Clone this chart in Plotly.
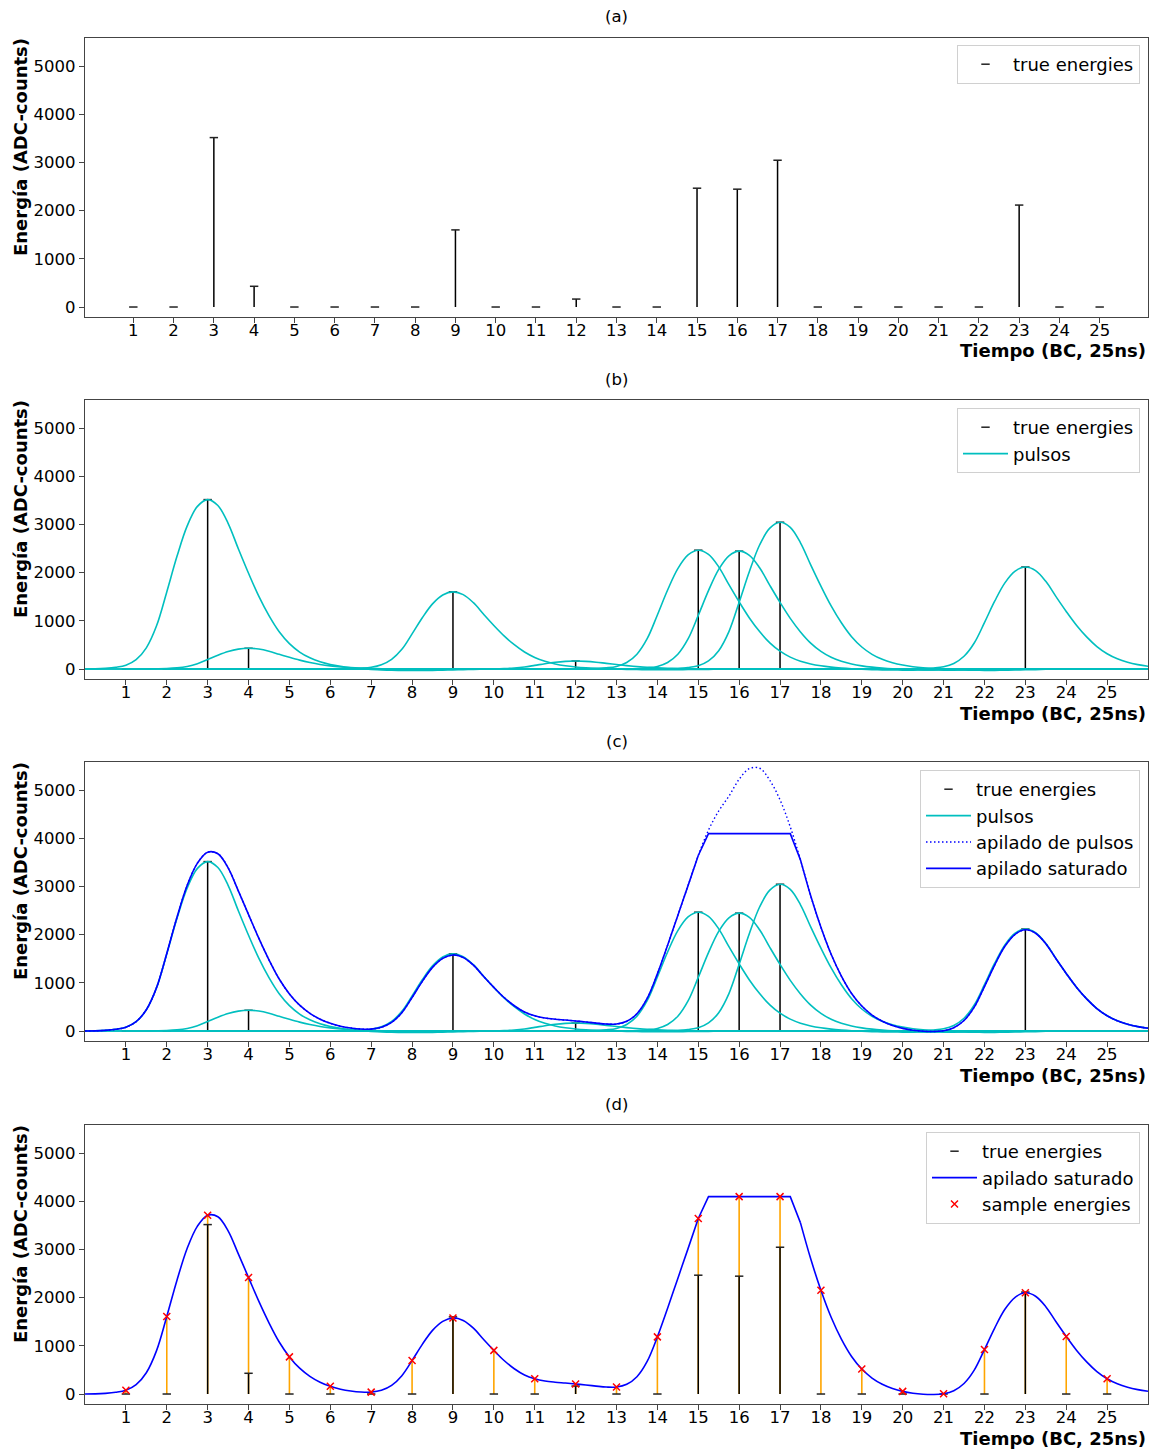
import plotly.graph_objects as go
from plotly.subplots import make_subplots

# Bunch crossings and deposited (true) energies, ADC counts
BC = list(range(1, 26))
TRUE_ENERGY = [0, 0, 3515, 430, 0, 0, 0, 0, 1600, 0, 0, 165, 0, 0,
               2465, 2445, 3045, 0, 0, 0, 0, 0, 2115, 0, 0]

# Normalised pulse shape, tabulated every quarter of a bunch crossing
PULSE_OFFSET = [-3.0, -2.75, -2.5, -2.25, -2.0, -1.75, -1.5, -1.25, -1.0, -0.75,
                -0.5, -0.25, 0.0, 0.25, 0.5, 0.75, 1.0, 1.25, 1.5, 1.75,
                2.0, 2.25, 2.5, 2.75, 3.0, 3.25, 3.5, 3.75, 4.0, 4.25,
                4.5, 4.75, 5.0, 5.25, 5.5, 5.75, 6.0, 6.25, 6.5, 6.75, 7.0]
PULSE_SHAPE = [0.000, 0.001, 0.004, 0.010, 0.022, 0.055, 0.125, 0.255, 0.455, 0.665,
               0.845, 0.960, 1.000, 0.965, 0.860, 0.710, 0.565, 0.430, 0.315, 0.220,
               0.150, 0.100, 0.066, 0.043, 0.027, 0.016, 0.008, 0.002, -0.002, -0.005,
               -0.007, -0.008, -0.009, -0.009, -0.008, -0.007, -0.005, -0.004, -0.002, -0.001, 0.000]

SATURATION = 4095
Y_TICKS = [0, 1000, 2000, 3000, 4000, 5000]
PANEL_TITLES = ["(a)", "(b)", "(c)", "(d)"]
X_TITLE = "Tiempo (BC, 25ns)"
Y_TITLE = "Energía (ADC-counts)"

CYAN = "#00BFBF"
BLUE = "#0000FF"
ORANGE = "#FFA500"
RED = "#FF0000"
FONT = "DejaVu Sans"
FS = 16.5        # tick labels and panel titles
FS_LABEL = 18    # bold axis labels and legends

# ---- pulse pile-up on a quarter-BC grid --------------------------------
shape_at = {round(o * 4): s for o, s in zip(PULSE_OFFSET, PULSE_SHAPE)}
grid_q = list(range(0, 26 * 4 + 1))          # quarter-BC steps from 0 to 26
grid_x = [q / 4 for q in grid_q]
stacked = []
for q in grid_q:
    tot = 0.0
    for b, e in zip(BC, TRUE_ENERGY):
        k = q - 4 * b
        if k in shape_at:
            tot += e * shape_at[k]
    stacked.append(tot)
saturated = [min(v, SATURATION) for v in stacked]
sample_energy = [saturated[4 * b] for b in BC]

# individual pulses as one broken line
pulse_x, pulse_y = [], []
for b, e in zip(BC, TRUE_ENERGY):
    pulse_x += [b + o for o in PULSE_OFFSET] + [None]
    pulse_y += [e * s for s in PULSE_SHAPE] + [None]

# stems of the true energies
stem_x, stem_y = [], []
for b, e in zip(BC, TRUE_ENERGY):
    stem_x += [b, b, None]
    stem_y += [0, e, None]

# orange stems of the sampled energies
samp_x, samp_y = [], []
for b, e in zip(BC, sample_energy):
    samp_x += [b, b, None]
    samp_y += [0, e, None]

# saturated curve: smooth where unsaturated, straight across the clipped run
is_sat = [v >= SATURATION for v in stacked]
n = len(grid_x)
smooth_y = [None if is_sat[i] else saturated[i] for i in range(n)]
flat_y = [saturated[i] if (is_sat[i] or (i > 0 and is_sat[i - 1]) or (i < n - 1 and is_sat[i + 1])) else None
          for i in range(n)]

# ---- figure ------------------------------------------------------------
W, H = 1156, 1449
ML, MR, MT, MB = 85, 8, 38, 45
PH = H - MT - MB
AX_TOP = [38, 400, 762, 1125]
AX_H = 279


def py(p):
    return (H - MB - p) / PH


def pxx(p):
    return (p - ML) / (W - ML - MR)


fig = make_subplots(rows=4, cols=1)


def true_energy_traces(row, leg):
    fig.add_trace(go.Scatter(x=stem_x, y=stem_y, mode="lines",
                             line=dict(color="black", width=1.5),
                             showlegend=False, hoverinfo="skip"), row=row, col=1)
    fig.add_trace(go.Scatter(x=BC, y=TRUE_ENERGY, mode="markers", name="true energies",
                             legendgroup="g1",
                             marker=dict(symbol="line-ew", size=6, color="black",
                                         line=dict(color="#222222", width=1.5)),
                             legend=leg), row=row, col=1)


# (a)
true_energy_traces(1, "legend")

# (b)
true_energy_traces(2, "legend2")
fig.add_trace(go.Scatter(x=pulse_x, y=pulse_y, mode="lines", name="pulsos", legendgroup="g2",
                         line=dict(color=CYAN, width=1.6, shape="spline"),
                         legend="legend2"), row=2, col=1)

# (c)
true_energy_traces(3, "legend3")
fig.add_trace(go.Scatter(x=pulse_x, y=pulse_y, mode="lines", name="pulsos", legendgroup="g2",
                         line=dict(color=CYAN, width=1.6, shape="spline"),
                         legend="legend3"), row=3, col=1)
fig.add_trace(go.Scatter(x=grid_x, y=stacked, mode="lines", name="apilado de pulsos",
                         legendgroup="g3",
                         line=dict(color=BLUE, width=1.4, dash="1.5px,2.5px", shape="spline"),
                         legend="legend3"), row=3, col=1)
fig.add_trace(go.Scatter(x=grid_x, y=smooth_y, mode="lines", name="apilado saturado",
                         legendgroup="g4",
                         line=dict(color=BLUE, width=1.6, shape="spline"),
                         legend="legend3"), row=3, col=1)
fig.add_trace(go.Scatter(x=grid_x, y=flat_y, mode="lines", showlegend=False,
                         line=dict(color=BLUE, width=1.6)), row=3, col=1)

# (d)
fig.add_trace(go.Scatter(x=samp_x, y=samp_y, mode="lines", showlegend=False,
                         line=dict(color=ORANGE, width=1.6), hoverinfo="skip"), row=4, col=1)
true_energy_traces(4, "legend4")
fig.add_trace(go.Scatter(x=grid_x, y=smooth_y, mode="lines", name="apilado saturado",
                         legendgroup="g4",
                         line=dict(color=BLUE, width=1.6, shape="spline"),
                         legend="legend4"), row=4, col=1)
fig.add_trace(go.Scatter(x=grid_x, y=flat_y, mode="lines", showlegend=False,
                         line=dict(color=BLUE, width=1.6)), row=4, col=1)
fig.add_trace(go.Scatter(x=BC, y=sample_energy, mode="markers", name="sample energies",
                         legendgroup="g5",
                         marker=dict(symbol="x-thin", size=7, color=RED,
                                     line=dict(color=RED, width=1.5)),
                         legend="legend4"), row=4, col=1)

axis_line = "#444444"
for i in range(4):
    top = AX_TOP[i]
    bot = top + AX_H
    xr = [-0.2, 26.2] if i == 0 else [0, 26]
    fig.update_xaxes(row=i + 1, col=1, range=xr, tickvals=BC, ticktext=[str(b) for b in BC],
                     ticks="outside", ticklen=5, tickwidth=1, tickcolor=axis_line,
                     ticklabelstandoff=-7,
                     showline=True, mirror=True, linecolor=axis_line, linewidth=1.2,
                     showgrid=False, zeroline=False,
                     tickfont=dict(family=FONT, size=FS, color="black"),
                     domain=[0, 1])
    fig.update_yaxes(row=i + 1, col=1, range=[-207, 5581], tickvals=Y_TICKS,
                     ticks="outside", ticklen=5, tickwidth=1, tickcolor=axis_line,
                     showline=True, mirror=True, linecolor=axis_line, linewidth=1.2,
                     showgrid=False, zeroline=False,
                     tickfont=dict(family=FONT, size=FS, color="black"),
                     domain=[py(bot), py(top)])
    # panel title
    fig.add_annotation(text=PANEL_TITLES[i], xref="paper", yref="paper",
                       x=0.5, y=py(top - 21), xanchor="center", yanchor="middle",
                       showarrow=False, font=dict(family=FONT, size=FS, color="black"))
    # x label, right aligned under the axis
    fig.add_annotation(text="<b>" + X_TITLE + "</b>", xref="paper", yref="paper",
                       x=1, y=py(bot + 34), xanchor="right", yanchor="middle",
                       showarrow=False, font=dict(family=FONT, size=FS_LABEL, color="black"))
    # y label
    fig.add_annotation(text="<b>" + Y_TITLE + "</b>", xref="paper", yref="paper",
                       x=pxx(20.5), y=py(top + AX_H / 2 - 30), xanchor="center", yanchor="middle",
                       textangle=-90, showarrow=False,
                       font=dict(family=FONT, size=FS_LABEL, color="black"))

legend_names = ["legend", "legend2", "legend3", "legend4"]
legend_tops = [45, 408, 770, 1132]
for name, t in zip(legend_names, legend_tops):
    fig.update_layout({name: dict(x=pxx(1140), y=py(t), xanchor="right", yanchor="top",
                                  bgcolor="rgba(255,255,255,0.85)", bordercolor="#d0d0d0",
                                  borderwidth=1, font=dict(family=FONT, size=FS_LABEL, color="black"),
                                  itemwidth=45, tracegroupgap=0)})

fig.update_layout(width=W, height=H, margin=dict(l=ML, r=MR, t=MT, b=MB),
                  paper_bgcolor="white", plot_bgcolor="white",
                  font=dict(family=FONT, size=FS, color="black"))

fig.write_html("out.html")
